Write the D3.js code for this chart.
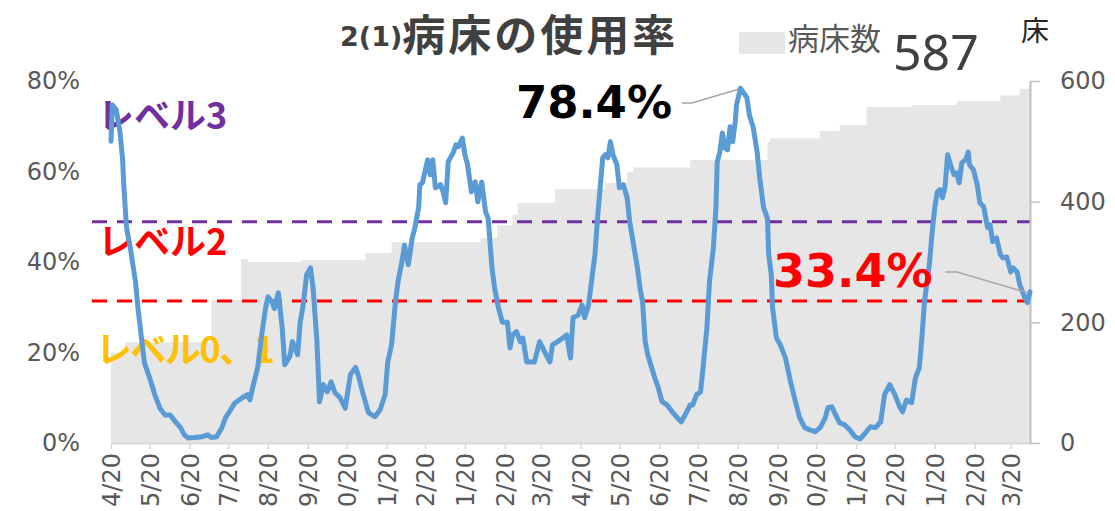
<!DOCTYPE html>
<html><head><meta charset="utf-8">
<script src="https://cdn.jsdelivr.net/npm/d3@7"></script>
<style>body{margin:0;background:#fff;} svg{display:block;}</style>
</head><body>
<svg id="c" width="1115" height="511"></svg>
<script>
// ---- data ----
const dates = [
"2020-04-20","2020-04-21","2020-04-24","2020-04-27","2020-04-29","2020-04-30","2020-05-02","2020-05-05","2020-05-09","2020-05-11",
"2020-05-14","2020-05-16","2020-05-20","2020-05-24","2020-05-28","2020-06-01","2020-06-05","2020-06-09","2020-06-13","2020-06-16",
"2020-06-19","2020-06-24","2020-06-30","2020-07-04","2020-07-07","2020-07-11","2020-07-15","2020-07-18","2020-07-21","2020-07-25",
"2020-07-31","2020-08-04","2020-08-06","2020-08-08","2020-08-12","2020-08-15","2020-08-18","2020-08-20","2020-08-23","2020-08-25",
"2020-08-28","2020-08-31","2020-09-02","2020-09-06","2020-09-08","2020-09-12","2020-09-14","2020-09-16","2020-09-19","2020-09-22",
"2020-09-24","2020-09-27","2020-09-29","2020-10-02","2020-10-05","2020-10-08","2020-10-11","2020-10-15","2020-10-19","2020-10-23",
"2020-10-27","2020-10-29","2020-11-02","2020-11-06","2020-11-11","2020-11-15","2020-11-19","2020-11-21","2020-11-24","2020-11-27",
"2020-11-29","2020-12-02","2020-12-04","2020-12-07","2020-12-10","2020-12-12","2020-12-15","2020-12-16","2020-12-18","2020-12-22",
"2020-12-24","2020-12-26","2020-12-28","2021-01-01","2021-01-03","2021-01-05","2021-01-07","2021-01-11","2021-01-13","2021-01-15",
"2021-01-18","2021-01-20","2021-01-22","2021-01-25","2021-01-28","2021-01-30","2021-02-02","2021-02-05","2021-02-07","2021-02-10",
"2021-02-12","2021-02-15","2021-02-18","2021-02-22","2021-02-24","2021-02-26","2021-03-01","2021-03-04","2021-03-06","2021-03-09",
"2021-03-13","2021-03-15","2021-03-19","2021-03-23","2021-03-27","2021-03-29","2021-04-02","2021-04-06","2021-04-09","2021-04-12",
"2021-04-14","2021-04-18","2021-04-21","2021-04-23","2021-04-26","2021-04-29","2021-05-01","2021-05-03","2021-05-07","2021-05-09",
"2021-05-11","2021-05-13","2021-05-15","2021-05-18","2021-05-20","2021-05-23","2021-05-26","2021-05-28","2021-05-31","2021-06-03",
"2021-06-05","2021-06-07","2021-06-09","2021-06-11","2021-06-14","2021-06-17","2021-06-19","2021-06-22","2021-06-26","2021-06-30",
"2021-07-04","2021-07-07","2021-07-10","2021-07-14","2021-07-16","2021-07-19","2021-07-22","2021-07-24","2021-07-27","2021-07-29",
"2021-08-01","2021-08-03","2021-08-04","2021-08-06","2021-08-08","2021-08-10","2021-08-12","2021-08-14","2021-08-16","2021-08-18",
"2021-08-19","2021-08-22","2021-08-24","2021-08-27","2021-08-29","2021-09-01","2021-09-04","2021-09-06","2021-09-09","2021-09-12",
"2021-09-13","2021-09-15","2021-09-16","2021-09-19","2021-09-22","2021-09-26","2021-09-30","2021-10-03","2021-10-07","2021-10-11",
"2021-10-15","2021-10-19","2021-10-23","2021-10-27","2021-10-29","2021-11-01","2021-11-04","2021-11-07","2021-11-11","2021-11-15",
"2021-11-19","2021-11-23","2021-11-27","2021-12-01","2021-12-05","2021-12-09","2021-12-12","2021-12-16","2021-12-20","2021-12-24",
"2021-12-26","2021-12-29","2022-01-02","2022-01-05","2022-01-08","2022-01-10","2022-01-12","2022-01-14","2022-01-16","2022-01-18",
"2022-01-20","2022-01-22","2022-01-24","2022-01-26","2022-01-28","2022-01-30","2022-02-02","2022-02-04","2022-02-06","2022-02-08",
"2022-02-10","2022-02-13","2022-02-15","2022-02-16","2022-02-19","2022-02-22","2022-02-24","2022-02-27","2022-03-02","2022-03-04",
"2022-03-06","2022-03-09","2022-03-12","2022-03-14","2022-03-17","2022-03-20","2022-03-22","2022-03-25","2022-03-27","2022-03-31",
"2022-04-02","2022-04-04"
];
const usageRate = [
66.7,74.7,73.7,68.7,62.7,56.7,47.7,43.1,35.7,29.7,
22.4,17.7,14.4,10.7,7.7,6.2,6.2,4.7,3.4,1.8,
1.1,1.2,1.4,1.8,1.2,1.4,3.3,5.6,6.9,8.8,
10.0,10.7,9.5,12.2,16.7,23.7,29.7,32.3,31.2,29.7,
33.2,25.5,17.3,19.2,22.4,19.5,26.7,29.9,37.2,38.7,
34.3,22.4,9.1,12.9,11.3,13.5,11.1,10.0,7.7,15.1,
16.7,15.1,10.7,6.7,5.8,7.3,10.7,17.9,21.7,31.2,
35.7,40.0,43.7,39.4,45.3,47.5,52.0,57.1,57.5,62.6,
59.3,62.6,56.4,57.1,55.5,53.1,62.1,64.3,65.9,65.5,
67.4,63.7,61.5,55.5,57.7,53.3,57.7,51.1,49.7,38.7,
34.3,29.9,26.7,26.7,21.0,23.9,24.6,22.4,23.2,17.9,
17.9,17.9,22.4,20.1,17.9,21.7,22.4,23.2,23.9,18.8,
27.7,28.3,30.5,27.7,30.5,37.2,41.6,49.7,63.0,63.7,
63.0,66.6,63.7,61.5,56.4,57.1,54.2,48.9,43.8,38.7,
34.2,31.2,22.4,19.5,16.7,14.0,12.4,9.2,8.4,6.9,
5.6,4.7,6.2,8.4,8.4,10.7,11.3,16.7,25.5,35.7,
43.1,52.0,62.1,64.3,68.5,65.2,64.8,69.9,66.6,71.0,
74.7,78.4,77.6,76.3,72.5,69.7,64.3,58.6,52.0,49.7,
41.6,37.2,29.9,23.2,21.7,18.8,13.5,10.0,5.6,3.4,
2.9,2.5,3.4,5.6,7.8,8.0,6.2,4.5,4.0,2.9,
1.4,0.9,2.2,3.6,3.4,4.7,10.7,12.9,10.7,7.8,
6.9,9.5,8.9,14.4,16.6,23.2,31.2,35.6,40.0,46.7,
52.0,55.5,56.0,54.2,56.6,63.7,60.8,59.3,59.7,57.5,
61.9,62.6,64.3,61.5,60.4,57.1,53.1,52.2,47.6,48.2,
44.5,45.3,41.6,40.9,41.1,37.8,38.7,37.8,35.0,32.1,
31.0,33.4
];
const bedStarts = ["2020-04-20","2020-05-01","2020-07-07","2020-07-30","2020-08-04","2020-09-15","2020-11-04","2020-11-24",
"2021-02-01","2021-02-14","2021-02-26","2021-03-02","2021-03-31","2021-05-09","2021-05-26","2021-05-31","2021-07-14",
"2021-09-12","2021-09-14","2021-10-23","2021-11-07","2021-11-28","2022-01-02","2022-02-06","2022-03-12","2022-03-27"];
const bedCounts = [150,167,237,305,300,303,315,333,340,361,378,398,421,431,449,457,469,499,505,517,527,557,560,567,576,587];
const periodEnd = "2022-04-04";
const levelNames = ["レベル3","レベル2","レベル0、1"];
const levelThresholds = [48.9, 31.4];
const leftTicks = [0,20,40,60,80];
const rightTicks = [0,200,400,600];
const tickDates = ["2020-04-20","2020-05-20","2020-06-20","2020-07-20","2020-08-20","2020-09-20","2020-10-20","2020-11-20","2020-12-20",
"2021-01-20","2021-02-20","2021-03-20","2021-04-20","2021-05-20","2021-06-20","2021-07-20","2021-08-20","2021-09-20","2021-10-20",
"2021-11-20","2021-12-20","2022-01-20","2022-02-20","2022-03-20"];
// tick labels as they appear in the picture (leading "1" of 10/11/12 cut off at the image edge)
const tickLabels = ["4/20","5/20","6/20","7/20","8/20","9/20","0/20","1/20","2/20","1/20","2/20","3/20",
"4/20","5/20","6/20","7/20","8/20","9/20","0/20","1/20","2/20","1/20","2/20","3/20"];
const currentBeds = 587;

// ---- chart ----
const parse = d3.timeParse("%Y-%m-%d");
const svg = d3.select("#c");
const L = 111, R = 1030, B = 443, T = 81;
const x = d3.scaleTime().domain([parse("2020-04-20"), parse(periodEnd)]).range([L, R]);
const yL = d3.scaleLinear().domain([0, 80]).range([B, T]);
const yR = d3.scaleLinear().domain([0, 600]).range([B, T]);
const latin = "'DejaVu Sans', 'Noto Sans CJK JP', sans-serif";
const jp = "'Noto Sans CJK JP', sans-serif";

svg.append("rect").attr("width",1115).attr("height",511).attr("fill","#fff");

// bed bars (stepwise)
const beds = bedStarts.map((s,i)=>({s:parse(s), e:parse(i<bedStarts.length-1?bedStarts[i+1]:periodEnd), v:bedCounts[i]}));
svg.append("g").selectAll("rect").data(beds).join("rect")
  .attr("x", d=>x(d.s)).attr("width", d=>x(d.e)-x(d.s)+0.5)
  .attr("y", d=>yR(d.v)).attr("height", d=>B-yR(d.v))
  .attr("fill","#e6e6e6");

// level dashed lines
const levelColors = ["#7030a0","#ff0000"];
svg.append("g").selectAll("line").data(levelThresholds).join("line")
  .attr("x1", 92).attr("x2", R).attr("y1", d=>yL(d)).attr("y2", d=>yL(d))
  .attr("stroke", (d,i)=>levelColors[i]).attr("stroke-width",3).attr("stroke-dasharray","15,10");

// level labels
const lvl = [{t:levelNames[0], c:"#7030a0", y:129, x:98, ls:0},{t:levelNames[1], c:"#ff0000", y:255, x:98, ls:0},{t:levelNames[2], c:"#ffc000", y:363, x:96, ls:-1.5}];
svg.append("g").selectAll("text").data(lvl).join("text")
  .attr("x", d=>d.x).attr("y", d=>d.y).text(d=>d.t).attr("letter-spacing", d=>d.ls)
  .attr("fill", d=>d.c).attr("font-family", jp).attr("font-weight","bold").attr("font-size",36);

// axes
const gx = svg.append("g").attr("transform",`translate(0,${B})`)
  .call(d3.axisBottom(x).tickValues(tickDates.map(parse)).tickSize(6).tickSizeOuter(0).tickFormat((d,i)=>tickLabels[i]));
gx.select(".domain").attr("stroke","#d9d9d9").attr("stroke-width",2);
gx.selectAll(".tick line").attr("stroke","#d9d9d9").attr("stroke-width",1.5);
gx.selectAll(".tick text").attr("transform","rotate(-90)").attr("text-anchor","end")
  .attr("x",-10).attr("y",0).attr("dy","0.36em")
  .attr("fill","#595959").attr("font-family",latin).attr("font-size",24);

const gl = svg.append("g").attr("transform",`translate(${L},0)`)
  .call(d3.axisLeft(yL).tickValues(leftTicks).tickSize(0).tickPadding(31).tickFormat(d=>d+"%"));
gl.select(".domain").remove();
gl.selectAll(".tick text").attr("fill","#595959").attr("font-family",latin).attr("font-size",24);

const gr = svg.append("g").attr("transform",`translate(${R},0)`)
  .call(d3.axisRight(yR).tickValues(rightTicks).tickSize(10).tickSizeOuter(0).tickPadding(20));
gr.select(".domain").attr("stroke","#bfbfbf").attr("stroke-width",2);
gr.selectAll(".tick line").attr("stroke","#bfbfbf").attr("stroke-width",1.5);
gr.selectAll(".tick text").attr("fill","#595959").attr("font-family",latin).attr("font-size",24);

// usage line
const pts = dates.map((d,i)=>({d:parse(d), v:usageRate[i]}));
svg.append("path").datum(pts)
  .attr("d", d3.line().x(d=>x(d.d)).y(d=>yL(d.v)))
  .attr("fill","none").attr("stroke","#5b9bd5").attr("stroke-width",5)
  .attr("stroke-linejoin","round").attr("stroke-linecap","round");

// annotations
const peak = pts.reduce((a,b)=>b.v>a.v?b:a);
const last = pts[pts.length-1];
svg.append("text").attr("x",672).attr("y",118).attr("text-anchor","end")
  .attr("font-family",latin).attr("font-weight","bold").attr("font-size",45).attr("fill","#000")
  .text(peak.v.toFixed(1)+"%");
svg.append("polyline").attr("points",`682,103 692,103 ${x(peak.d)-2},${yL(peak.v)+1}`)
  .attr("fill","none").attr("stroke","#a6a6a6").attr("stroke-width",1.5);
svg.append("text").attr("x",773).attr("y",287)
  .attr("font-family",latin).attr("font-weight","bold").attr("font-size",46).attr("fill","#ff0000")
  .text(last.v.toFixed(1)+"%");
svg.append("polyline").attr("points",`945,272 957,272 ${x(last.d)-2},${yL(last.v)+1}`)
  .attr("fill","none").attr("stroke","#a6a6a6").attr("stroke-width",1.5);

// title
const title = svg.append("text").attr("x",340).attr("y",51).attr("fill","#404040").attr("font-weight","bold");
title.append("tspan").attr("font-family",latin).attr("font-size",27).attr("dy",-5).text("2(1)");
title.append("tspan").attr("font-family",jp).attr("font-size",43).attr("dy",5).attr("letter-spacing",3).text("病床の使用率");

// legend
svg.append("rect").attr("x",739).attr("y",32).attr("width",46).attr("height",22).attr("fill","#e6e6e6");
svg.append("text").attr("x",788).attr("y",50).attr("font-family",jp).attr("font-size",31).attr("fill","#595959").text("病床数");
svg.append("text").attr("x",893).attr("y",70).attr("font-family","'Noto Sans', sans-serif").attr("font-size",50).attr("fill","#404040").text(currentBeds);
svg.append("text").attr("x",1021).attr("y",41).attr("font-family",jp).attr("font-size",28).attr("fill","#262626").text("床");
</script>
</body></html>
